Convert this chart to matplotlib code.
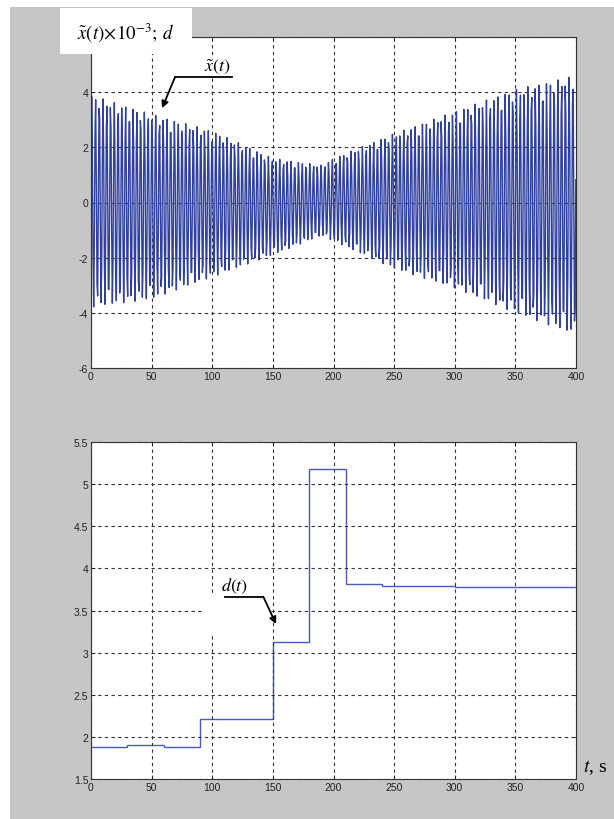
import numpy as np
import matplotlib
matplotlib.use("Agg")
import matplotlib.pyplot as plt
from matplotlib.patches import Rectangle

plt.rcParams['mathtext.fontset'] = 'stix'
plt.rcParams['font.family'] = ['Liberation Sans', 'DejaVu Sans']

# envelope of x~(t) (x1e-3)
env_t = [0, 50, 100, 150, 190, 200, 250, 300, 350, 400]
env_hi = [3.9, 3.2, 2.6, 1.6, 1.35, 1.6, 2.5, 3.3, 4.1, 4.6]
env_lo = [-3.8, -3.5, -2.7, -1.9, -1.2, -1.4, -2.4, -3.1, -4.0, -4.8]
period = 3.1  # s, spacing of the spikes
dt = 0.55     # s, sampling step of the record

# d(t) piecewise constant
d_edges = [0, 30, 60, 90, 150, 180, 210, 240, 300, 400]
d_vals = [1.88, 1.90, 1.88, 2.21, 3.13, 5.18, 3.82, 3.79, 3.78]

xticks = [0, 50, 100, 150, 200, 250, 300, 350, 400]
yticks_top = [-6, -4, -2, 0, 2, 4, 6]
yticks_bot = [1.5, 2, 2.5, 3, 3.5, 4, 4.5, 5, 5.5]

W, H = 614, 820
fig = plt.figure(figsize=(W / 100, H / 100), dpi=100, facecolor='white')
fig.patches.append(Rectangle((10 / W, 0), 604 / W, 812 / H, transform=fig.transFigure,
                             facecolor='#c6c6c6', edgecolor='none', zorder=-10))

def fx(px):
    return px / W

def fy(py):
    return 1 - py / H

ax1 = fig.add_axes([fx(91), fy(369), (576 - 91) / W, (369 - 38) / H])
ax2 = fig.add_axes([fx(91), fy(780), (576 - 91) / W, (780 - 443) / H])

t = np.arange(0, 400.001, dt)
hi = np.interp(t, env_t, env_hi)
lo = np.interp(t, env_t, env_lo)
x = 0.5 * (hi + lo) + 0.5 * (hi - lo) * np.sin(2 * np.pi * t / period + 0.3)
ax1.plot(t, x, color='#3040a0', lw=1.0)

ax2.stairs(d_vals, d_edges, color='#4a5ac4', lw=1.0, baseline=None)

grid_kw = dict(color='#333333', linestyle=(0, (3, 3)), linewidth=0.8)
for ax, yt in ((ax1, yticks_top), (ax2, yticks_bot)):
    ax.set_facecolor('white')
    ax.set_xlim(0, 400)
    ax.set_xticks(xticks)
    ax.set_yticks(yt)
    ax.grid(True, **grid_kw)
    ax.tick_params(direction='in', length=3, width=0.6, labelsize=7.5,
                   colors='#222222', top=True, right=True, pad=2)
    for s in ax.spines.values():
        s.set_linewidth(0.8)
        s.set_color('#333333')
ax1.set_yticklabels(['%g' % v if v != 6 else '' for v in yticks_top])
ax2.set_yticklabels(['%g' % v for v in yticks_bot])
ax1.set_ylim(-6, 6)
ax2.set_ylim(1.5, 5.5)

# label box at the top left
fig.patches.append(Rectangle((fx(60), fy(55)), 132 / W, 46 / H, transform=fig.transFigure,
                             facecolor='white', edgecolor='none', zorder=5))
fig.text(fx(125), fy(33), r'$\tilde{x}(t)\!\times\!10^{-3};\, d$', fontsize=13.5,
         ha='center', va='center', zorder=6)

# annotations
ax1.text(103.9, 4.95, r'$\tilde{x}(t)$', fontsize=13, ha='center', va='center',
         bbox=dict(facecolor='white', edgecolor='none', pad=1), zorder=4)
ax1.plot([116.3, 69.3], [4.545, 4.545], color='black', lw=1.3, zorder=5)
ax1.annotate('', xy=(58.6, 3.42), xytext=(69.3, 4.545),
             arrowprops=dict(arrowstyle='-|>', color='black', lw=1.3, mutation_scale=10,
                             shrinkA=0, shrinkB=0), zorder=5)

ax2.add_patch(Rectangle((92, 3.22), 55, 0.45, facecolor='white', edgecolor='none', zorder=2.5))
ax2.text(118.8, 3.8, r'$d(t)$', fontsize=13, ha='center', va='center', zorder=4)
ax2.plot([110.5, 142.1], [3.664, 3.664], color='black', lw=1.3, zorder=5)
ax2.annotate('', xy=(152.6, 3.34), xytext=(142.1, 3.664),
             arrowprops=dict(arrowstyle='-|>', color='black', lw=1.3, mutation_scale=10,
                             shrinkA=0, shrinkB=0), zorder=5)

fig.text(fx(583), fy(768), r'$t$, s', fontsize=14, family='Liberation Serif',
         ha='left', va='center')

fig.savefig('out.png', dpi=100, facecolor='white')
